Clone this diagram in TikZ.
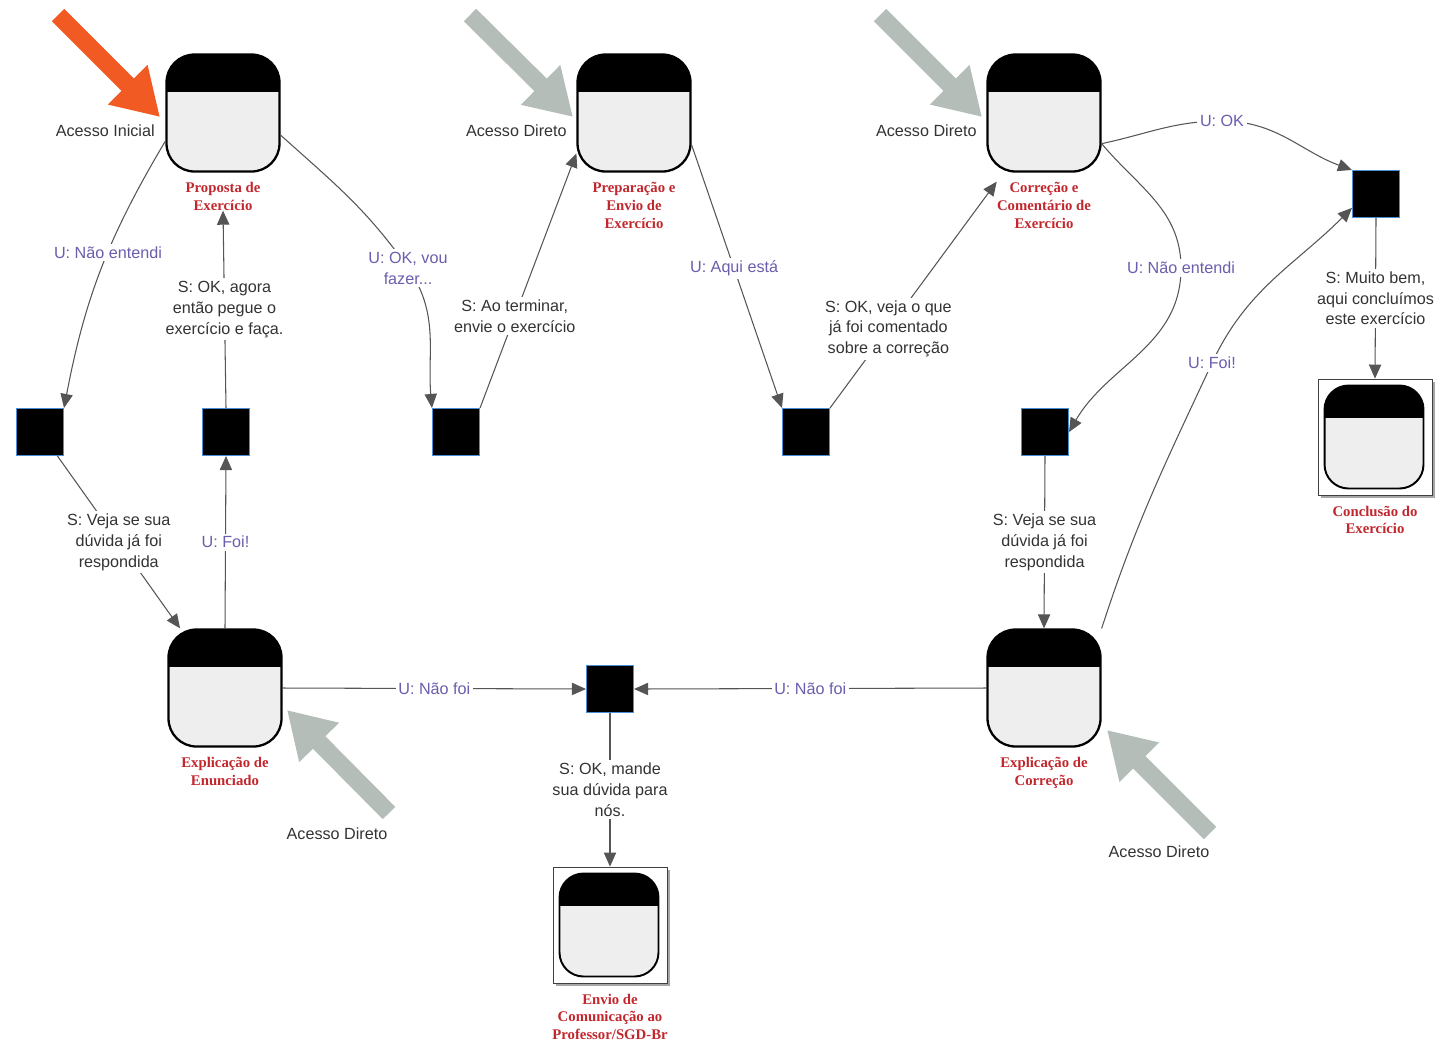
\documentclass[tikz,border=0pt]{standalone}
\usepackage{fontspec}
\setmainfont{Liberation Sans}
\newfontfamily\serifnegrito{Liberation Serif}
\usetikzlibrary{positioning}
\usetikzlibrary{arrows.meta}
\usetikzlibrary{shadows}

\definecolor{cinzaclaro}{HTML}{EEEEEE}
\definecolor{cinzalinha}{HTML}{555555}
\definecolor{cinzatexto}{HTML}{333333}
\definecolor{roxo}{HTML}{6B5EAE}
\definecolor{vermelho}{HTML}{C1272D}
\definecolor{azulborda}{HTML}{4A8FD6}
\definecolor{laranja}{HTML}{F15A22}
\definecolor{cinzaseta}{HTML}{B4BDB7}

\tikzset{
    faixa/.style={path picture={\fill[black, sharp corners] (path picture bounding box.north west)
        rectangle ([yshift=-#1]path picture bounding box.north east);}},
    estado/.style={rectangle, rounded corners=0.56cm, draw=black, line width=1.3pt,
        fill=cinzaclaro, minimum width=2.26cm, minimum height=2.34cm, inner sep=0pt, faixa=0.74cm},
    estadofim/.style={estado, rounded corners=0.48cm, line width=1.1pt,
        minimum width=1.98cm, minimum height=2.06cm, faixa=0.64cm},
    moldura/.style={rectangle, draw=black!75, line width=0.5pt, fill=white,
        minimum width=2.28cm, minimum height=2.32cm,
        drop shadow={shadow xshift=0.06cm, shadow yshift=-0.06cm, fill=black!35, opacity=1}},
    quadrado/.style={rectangle, fill=black, draw=azulborda, line width=0.6pt,
        minimum size=0.94cm, inner sep=0pt},
    nome/.style={font=\serifnegrito\bfseries\fontsize{8.4}{10.2}\selectfont, text=vermelho,
        align=center, inner sep=0pt},
    trans/.style={draw=cinzalinha, line width=0.6pt, -{Triangle[length=8pt,width=7pt]}},
    rot/.style={fill=white, inner sep=1.5pt, align=center,
        font=\fontsize{9.2}{11.9}\selectfont, text=cinzatexto},
    rotU/.style={rot, text=roxo},
    acesso/.style={line width=10pt, draw=cinzaseta, -{Triangle[length=26pt,width=30pt]}},
    txtacesso/.style={font=\fontsize{9.2}{11}\selectfont, text=cinzatexto, inner sep=0pt}
}

\begin{document}
\begin{tikzpicture}[x=0.02cm, y=-0.02cm]
    \useasboundingbox (0,0) rectangle (1435,1042);

    % estados principais
    \node[estado] (prop) at (223,113) {};
    \node[estado] (prep) at (634,113) {};
    \node[estado] (corr) at (1044,113) {};
    \node[estado] (expE) at (225,688) {};
    \node[estado] (expC) at (1044,688) {};

    % estados finais (com moldura)
    \node[moldura] (concF) at (1375,437) {};
    \node[estadofim] (conc) at (1374,437) {};
    \node[moldura] (envF) at (610,925) {};
    \node[estadofim] (envio) at (609,925) {};

    \node[nome, below=0.18cm of prop] (propL) {Proposta de\\Exercício};
    \node[nome, below=0.18cm of prep] (prepL) {Preparação e\\Envio de\\Exercício};
    \node[nome, below=0.18cm of corr] (corrL) {Correção e\\Comentário de\\Exercício};
    \node[nome, below=0.18cm of expE] (expEL) {Explicação de\\Enunciado};
    \node[nome, below=0.18cm of expC] (expCL) {Explicação de\\Correção};
    \node[nome, below=0.2cm of concF] (concL) {Conclusão do\\Exercício};
    \node[nome, below=0.2cm of envF] (envioL) {Envio de\\Comunicação ao\\Professor/SGD-Br};

    % pontos de decisao
    \foreach \q/\x/\y in {qa/40/432, qb/226/432, qc/456/432, qd/806/432,
                          qe/1045/432, qf/1376/194, qg/610/689}
        {\node[quadrado] (\q) at (\x,\y) {};}

    % setas de acesso
    \coordinate (a1) at (58,15);   \coordinate (b1) at (160,117);
    \coordinate (a2) at (470,15);  \coordinate (b2) at (573,117);
    \coordinate (a3) at (880,15);  \coordinate (b3) at (982,117);
    \coordinate (a4) at (389,813); \coordinate (b4) at (287,710);
    \coordinate (a5) at (1210,833); \coordinate (b5) at (1107,730);
    \draw[acesso, draw=laranja] (a1) -- (b1);
    \foreach \k in {2,...,5}
        {\draw[acesso] (a\k) -- (b\k);}

    \node[txtacesso, anchor=east] (t1) at (155,131) {Acesso Inicial};
    \node[txtacesso, anchor=east] (t2) at (567,131) {Acesso Direto};
    \node[txtacesso, anchor=east] (t3) at (977,131) {Acesso Direto};
    \node[txtacesso] (t4) at (337,834) {Acesso Direto};
    \node[txtacesso] (t5) at (1159,852) {Acesso Direto};

    % transicoes
    \draw[trans] (prop.206) to[bend right=10] node[rotU, pos=0.43]{U: Não entendi} (qa.north east);
    \draw[trans] (qa.-54) -- node[rot]{S: Veja se sua\\dúvida já foi\\respondida} (expE.127);
    \draw[trans] (expE.north) -- node[rotU]{U: Foi!} (qb.south);
    \draw[trans] (qb.north) -- node[rot]{S: OK, agora\\então pegue o\\exercício e faça.} (propL.south);
    \draw[trans] (prop.-21) to[out=-42,in=125] (408,268) node[rotU]{U: OK, vou\\fazer...}
        to[out=-55,in=95] (qc.north west);
    \draw[trans] (qc.north east) -- node[rot, pos=0.36]{S: Ao terminar,\\envie o exercício} (prep.215);
    \draw[trans] (prep.-29) -- node[rotU, pos=0.47]{U: Aqui está} (qd.north west);
    \draw[trans] (qd.north east) -- node[rot, pos=0.35]{S: OK, veja o que\\já foi comentado\\sobre a correção} (corrL.north west);
    \draw[trans] (corr.-28) to[out=12,in=180] (1222,121) node[rotU]{U: OK}
        to[out=0,in=160] (qf.north west);
    \draw[trans] (corr.-28) to[out=-50,in=90] (1181,268) node[rotU]{U: Não entendi}
        to[out=-90,in=60] (qe.east);
    \draw[trans] (qe.south) -- node[rot]{S: Veja se sua\\dúvida já foi\\respondida} (expC.north);
    \draw[trans] (expC.north east) to[out=72,in=-115] (1212,363) node[rotU]{U: Foi!}
        to[out=65,in=-135] (qf.210);
    \draw[trans] (qf.south) -- node[rot]{S: Muito bem,\\aqui concluímos\\este exercício} (concF.north);
    \draw[trans] (expE.east) -- node[rotU]{U: Não foi} (qg.west);
    \draw[trans] (expC.west) -- node[rotU]{U: Não foi} (qg.east);
    \draw[trans] (qg.south) -- node[rot]{S: OK, mande\\sua dúvida para\\nós.} (envF.north);
\end{tikzpicture}
\end{document}
